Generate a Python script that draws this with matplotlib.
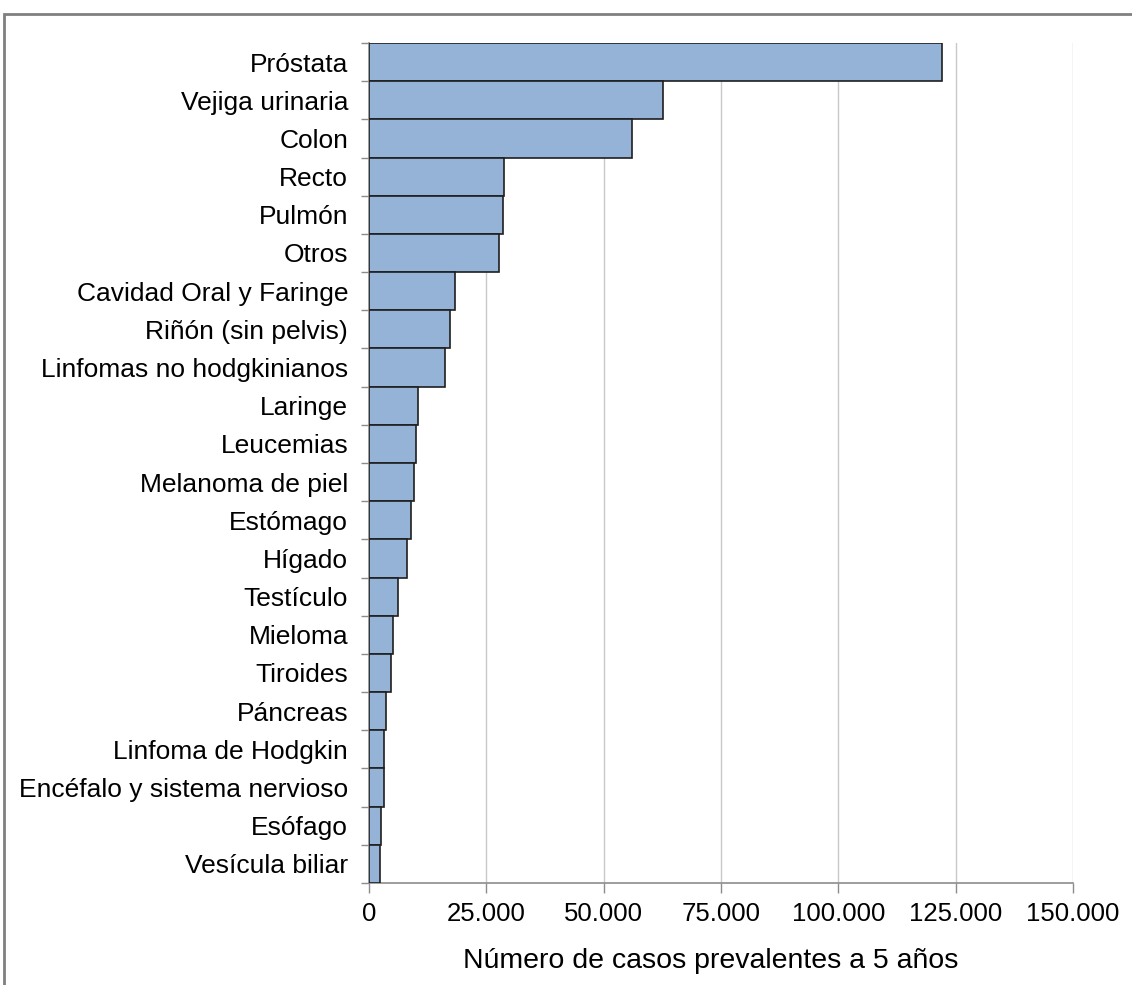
import matplotlib
matplotlib.use("Agg")
import matplotlib.pyplot as plt
from matplotlib.ticker import FuncFormatter, FixedLocator
from matplotlib.patches import Rectangle

plt.rcParams['font.family'] = ['Liberation Sans', 'DejaVu Sans']

categories = ["Próstata", "Vejiga urinaria", "Colon", "Recto", "Pulmón", "Otros",
              "Cavidad Oral y Faringe", "Riñón (sin pelvis)", "Linfomas no hodgkinianos",
              "Laringe", "Leucemias", "Melanoma de piel", "Estómago", "Hígado",
              "Testículo", "Mieloma", "Tiroides", "Páncreas", "Linfoma de Hodgkin",
              "Encéfalo y sistema nervioso", "Esófago", "Vesícula biliar"]
values = [122100, 62600, 56000, 28800, 28600, 27750, 18300, 17250, 16250,
          10430, 10070, 9640, 8870, 8090, 6240, 5110, 4610, 3550, 3260, 3260, 2550, 2270]
xticks = [0, 25000, 50000, 75000, 100000, 125000, 150000]
xlabel = "Número de casos prevalentes a 5 años"

W, H = 1132, 985
fig = plt.figure(figsize=(W/100, H/100), dpi=100)
ax = fig.add_axes([369/W, 1 - 883/H, (1073-369)/W, (883-43)/H])

ypos = list(range(len(categories)))
ax.barh(ypos, values, height=1.0, color='#95b3d7', edgecolor='#1f1f1f', linewidth=1.2, zorder=3)
ax.set_ylim(len(categories) - 0.5, -0.5)
ax.set_xlim(0, 150000)
ax.set_yticks(ypos)
ax.set_yticklabels(categories, fontsize=19)
ax.yaxis.set_minor_locator(FixedLocator([i - 0.5 for i in range(len(categories) + 1)]))
ax.tick_params(axis='y', which='major', length=0, pad=15)
ax.tick_params(axis='y', which='minor', length=6, color='#8c8c8c', width=1)
ax.set_xticks(xticks)
ax.xaxis.set_major_formatter(FuncFormatter(lambda v, p: f"{int(v):,}".replace(",", ".")))
ax.tick_params(axis='x', labelsize=18.5, length=7, color='#8c8c8c', width=1, pad=7)
ax.grid(axis='x', color='#c8c8c8', linewidth=1, zorder=0)
for s in ['top', 'right']:
    ax.spines[s].set_visible(False)
for s in ['left', 'bottom']:
    ax.spines[s].set_color('#8c8c8c')
    ax.spines[s].set_linewidth(1.2)
ax.set_xlabel(xlabel, fontsize=20.5)
ax.xaxis.set_label_coords(0.485, -0.077)

fig.patches.append(Rectangle((4/W, -0.05), 1.1, 1 - 14/H + 0.05, transform=fig.transFigure,
                             fill=False, edgecolor='#808080', linewidth=2))

fig.savefig("out.png", dpi=100)
